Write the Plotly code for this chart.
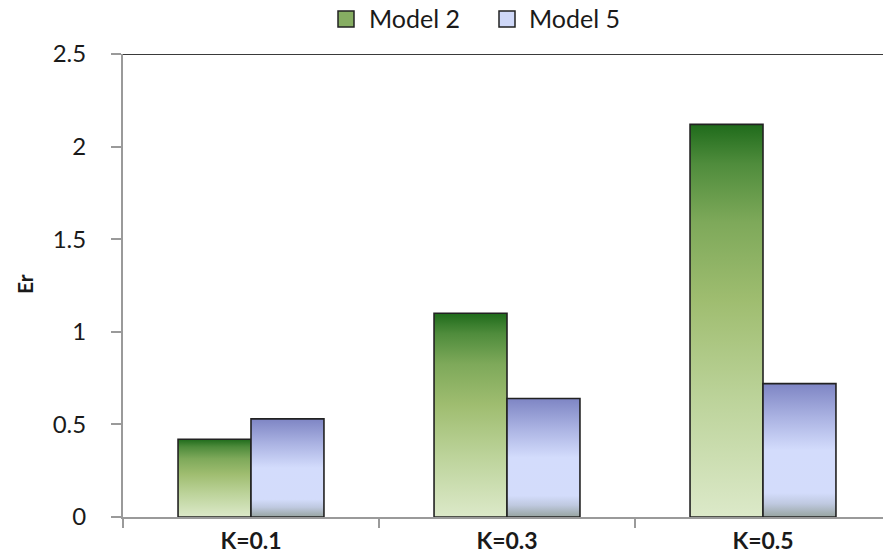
import plotly.graph_objects as go

# Data
categories = ["K=0.1", "K=0.3", "K=0.5"]
model2 = [0.42, 1.10, 2.12]
model5 = [0.53, 0.64, 0.72]
series_names = ["Model 2", "Model 5"]
y_ticks = [0, 0.5, 1, 1.5, 2, 2.5]
y_tick_text = ["0", "0.5", "1", "1.5", "2", "2.5"]

# Styling
BAR_W = 0.285
FONT = "Lato"
TXT = "#1a1a1a"
OUTLINE = "#222222"
green_scale = [[0.0, "#dce9c9"], [0.3, "#bcd39a"], [0.55, "#9fbd70"],
               [0.75, "#7ea95a"], [0.9, "#4f8c3c"], [1.0, "#1f6b1b"]]
blue_scale = [[0.0, "#97a4a0"], [0.1, "#bfc9e0"], [0.18, "#d3dcfb"],
              [0.5, "#d3dcfc"], [0.75, "#aab2e2"], [1.0, "#7e85c4"]]
swatch_colors = ["#86ad62", "#cfd8f8"]

# Plot-area geometry in pixels (used for placing the legend in paper units)
W, H = 883, 558
L, R, T, B = 123, 0, 54, 41
PW, PH = W - L - R, H - T - B


def px_x(px):
    return (px - L) / PW


def px_y(py):
    return (H - B - py) / PH


fig = go.Figure()


def add_bar(idx, value, offset, scale):
    x0 = idx + offset
    x1 = x0 + BAR_W
    fig.add_trace(go.Scatter(
        x=[x0, x0, x1, x1, x0],
        y=[0, value, value, 0, 0],
        mode="lines",
        fill="toself",
        fillgradient=dict(type="vertical", colorscale=scale, start=0, stop=value),
        line=dict(color=OUTLINE, width=1.6),
        showlegend=False,
        hoverinfo="skip",
    ))


for i, v in enumerate(model2):
    add_bar(i, v, -BAR_W, green_scale)
for i, v in enumerate(model5):
    add_bar(i, v, 0.0, blue_scale)

# Top border of the plot area
fig.add_shape(type="line", xref="paper", yref="y", x0=0, x1=1, y0=2.5, y1=2.5,
              line=dict(color="#3a3a3a", width=2))

# Legend: swatches and labels above the plot area
legend_items = [(338, 367), (499, 527)]
for (sw_x, txt_x), name, col in zip(legend_items, series_names, swatch_colors):
    fig.add_shape(type="rect", xref="paper", yref="paper",
                  x0=px_x(sw_x), x1=px_x(sw_x + 16), y0=px_y(27), y1=px_y(11),
                  fillcolor=col, line=dict(color=OUTLINE, width=1.5))
    fig.add_annotation(text=name, xref="paper", yref="paper",
                       x=px_x(txt_x), y=px_y(18), xanchor="left", yanchor="middle",
                       showarrow=False, font=dict(family=FONT, size=25, color=TXT))

# Y-axis title
fig.add_annotation(text="<b>Er</b>", xref="paper", yref="paper",
                   x=px_x(24), y=px_y(284), xanchor="center", yanchor="middle",
                   textangle=-90, showarrow=False,
                   font=dict(family=FONT, size=21, color=TXT))

fig.update_layout(
    width=W, height=H,
    margin=dict(l=L, r=R, t=T, b=B),
    paper_bgcolor="white", plot_bgcolor="white",
    font=dict(family=FONT, size=24, color=TXT),
    showlegend=False,
    xaxis=dict(
        range=[-0.5, -0.5 + PW / 256],
        tickvals=list(range(len(categories))), ticktext=categories,
        ticks="", showgrid=False, zeroline=False,
        showline=True, linecolor="#9a9a9a", linewidth=2,
        tickfont=dict(family=FONT, size=23, color=TXT, weight="bold"),
        ticklabelstandoff=2,
        minor=dict(tickvals=[-0.5, 0.5, 1.5], ticks="outside", ticklen=9,
                   tickcolor="#9a9a9a", tickwidth=2, showgrid=False),
    ),
    yaxis=dict(
        range=[0, 2.5], tickvals=y_ticks, ticktext=y_tick_text,
        ticks="outside", ticklen=10, tickcolor="#9a9a9a", tickwidth=2,
        showline=True, linecolor="#9a9a9a", linewidth=2,
        showgrid=False, zeroline=False,
        tickfont=dict(family=FONT, size=24, color=TXT),
        ticklabelstandoff=20,
    ),
)

fig.write_html("out.html")
